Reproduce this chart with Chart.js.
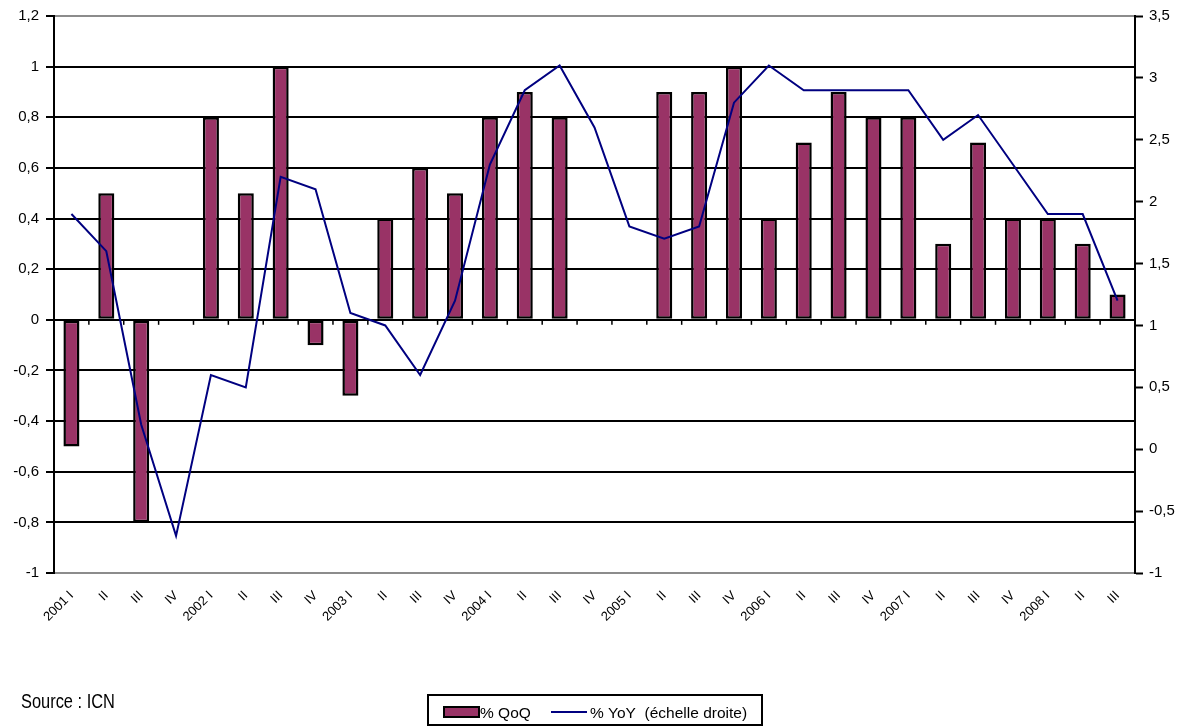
<!DOCTYPE html>
<html>
<head>
<meta charset="utf-8">
<script src="https://cdn.jsdelivr.net/npm/chart.js@4/dist/chart.umd.min.js"></script>
<style>
  html, body { margin: 0; padding: 0; background: #fff; }
  #wrap { position: relative; width: 1193px; height: 727px; }
</style>
</head>
<body>
<div id="wrap"><canvas id="chart"></canvas></div>
<script>
var quarters = ['2001 I', 'II', 'III', 'IV', '2002 I', 'II', 'III', 'IV',
  '2003 I', 'II', 'III', 'IV', '2004 I', 'II', 'III', 'IV',
  '2005 I', 'II', 'III', 'IV', '2006 I', 'II', 'III', 'IV',
  '2007 I', 'II', 'III', 'IV', '2008 I', 'II', 'III'];

var qoq = [-0.5, 0.5, -0.8, 0, 0.8, 0.5, 1.0, -0.1,
  -0.3, 0.4, 0.6, 0.5, 0.8, 0.9, 0.8, 0,
  0, 0.9, 0.9, 1.0, 0.4, 0.7, 0.9, 0.8,
  0.8, 0.3, 0.7, 0.4, 0.4, 0.3, 0.1];

var yoy = [1.9, 1.6, 0.2, -0.7, 0.6, 0.5, 2.2, 2.1,
  1.1, 1.0, 0.6, 1.2, 2.3, 2.9, 3.1, 2.6,
  1.8, 1.7, 1.8, 2.8, 3.1, 2.9, 2.9, 2.9,
  2.9, 2.5, 2.7, 2.3, 1.9, 1.9, 1.2];

var seriesNames = ['% QoQ', '% YoY  (échelle droite)'];
var sourceText = 'Source : ICN';

function commaNum(v) {
  var r = Math.round(v * 10) / 10;
  return String(r).replace('.', ',');
}

// small ticks on the zero line, legend box and source note
var extras = {
  id: 'extras',
  afterDatasetsDraw: function(chart) {
    var ctx = chart.ctx;
    var x = chart.scales.x;
    var y0 = chart.scales.y.getPixelForValue(0);
    ctx.save();
    ctx.strokeStyle = '#000';
    ctx.lineWidth = 1.5;
    for (var i = 1; i < quarters.length; i++) {
      var bx = (x.getPixelForValue(i - 1) + x.getPixelForValue(i)) / 2;
      ctx.beginPath();
      ctx.moveTo(bx, y0);
      ctx.lineTo(bx, y0 + 5);
      ctx.stroke();
    }
    ctx.restore();
  },
  afterDraw: function(chart) {
    var ctx = chart.ctx;
    var ds = chart.data.datasets;
    ctx.save();
    ctx.strokeStyle = '#000';
    ctx.lineWidth = 2;
    ctx.strokeRect(428, 695, 334, 30);

    ctx.fillStyle = ds[0].backgroundColor;
    ctx.fillRect(444, 707, 35, 10);
    ctx.lineWidth = 2;
    ctx.strokeRect(444, 707, 35, 10);

    ctx.font = '15.5px "Liberation Sans", Arial, sans-serif';
    ctx.fillStyle = '#000';
    ctx.textBaseline = 'alphabetic';
    ctx.fillText(ds[0].label, 480, 718);

    ctx.strokeStyle = ds[1].borderColor;
    ctx.lineWidth = 2;
    ctx.beginPath();
    ctx.moveTo(551, 712);
    ctx.lineTo(587, 712);
    ctx.stroke();
    ctx.fillText(ds[1].label, 590, 718);

    // narrow face for the source note
    ctx.font = '20px "Liberation Sans", Arial, sans-serif';
    ctx.translate(21, 708);
    ctx.scale(0.82, 1);
    ctx.fillText(sourceText, 0, 0);
    ctx.restore();
  }
};

var edgeGrey = function(c) {
  var v = c.tick ? c.tick.value : 0;
  return (Math.abs(v - 1.2) < 1e-6 || Math.abs(v + 1) < 1e-6) ? '#8c8c8c' : '#000';
};

new Chart(document.getElementById('chart'), {
  type: 'bar',
  data: {
    labels: quarters,
    datasets: [{
      type: 'bar',
      label: seriesNames[0],
      data: qoq,
      yAxisID: 'y',
      backgroundColor: '#993366',
      borderColor: '#000',
      borderWidth: 2.5,
      borderSkipped: false,
      categoryPercentage: 1,
      barPercentage: 0.46,
      order: 2
    }, {
      type: 'line',
      label: seriesNames[1],
      data: yoy,
      yAxisID: 'y2',
      borderColor: '#000080',
      borderWidth: 2,
      pointRadius: 0,
      tension: 0,
      fill: false,
      order: 1
    }]
  },
  plugins: [extras],
  options: {
    responsive: true,
    maintainAspectRatio: false,
    animation: false,
    layout: { padding: { top: 15, left: 0, right: 0, bottom: 0 } },
    plugins: {
      legend: { display: false },
      tooltip: { enabled: false }
    },
    scales: {
      x: {
        offset: true,
        grid: { display: false },
        border: { display: false },
        ticks: {
          autoSkip: false,
          minRotation: 45,
          maxRotation: 45,
          padding: 7,
          color: '#000',
          font: { family: '"Liberation Sans", Arial, sans-serif', size: 13 }
        },
        afterFit: function(s) { s.height = 154; }
      },
      y: {
        position: 'left',
        min: -1,
        max: 1.2,
        ticks: {
          stepSize: 0.2,
          padding: 7,
          color: '#000',
          font: { family: '"Liberation Sans", Arial, sans-serif', size: 15 },
          callback: function(v) { return commaNum(v); }
        },
        grid: {
          color: edgeGrey,
          lineWidth: 2,
          tickLength: 8,
          tickColor: '#000',
          tickWidth: 2
        },
        border: { color: '#000', width: 2 },
        afterFit: function(s) { s.width = 54; }
      },
      y2: {
        position: 'right',
        min: -1,
        max: 3.5,
        ticks: {
          stepSize: 0.5,
          padding: 6,
          color: '#000',
          font: { family: '"Liberation Sans", Arial, sans-serif', size: 15 },
          callback: function(v) { return commaNum(v); }
        },
        grid: {
          drawOnChartArea: false,
          tickLength: 8,
          tickColor: '#000',
          tickWidth: 2
        },
        border: { color: '#000', width: 2 },
        afterFit: function(s) { s.width = 58; }
      }
    }
  }
});
</script>
</body>
</html>
